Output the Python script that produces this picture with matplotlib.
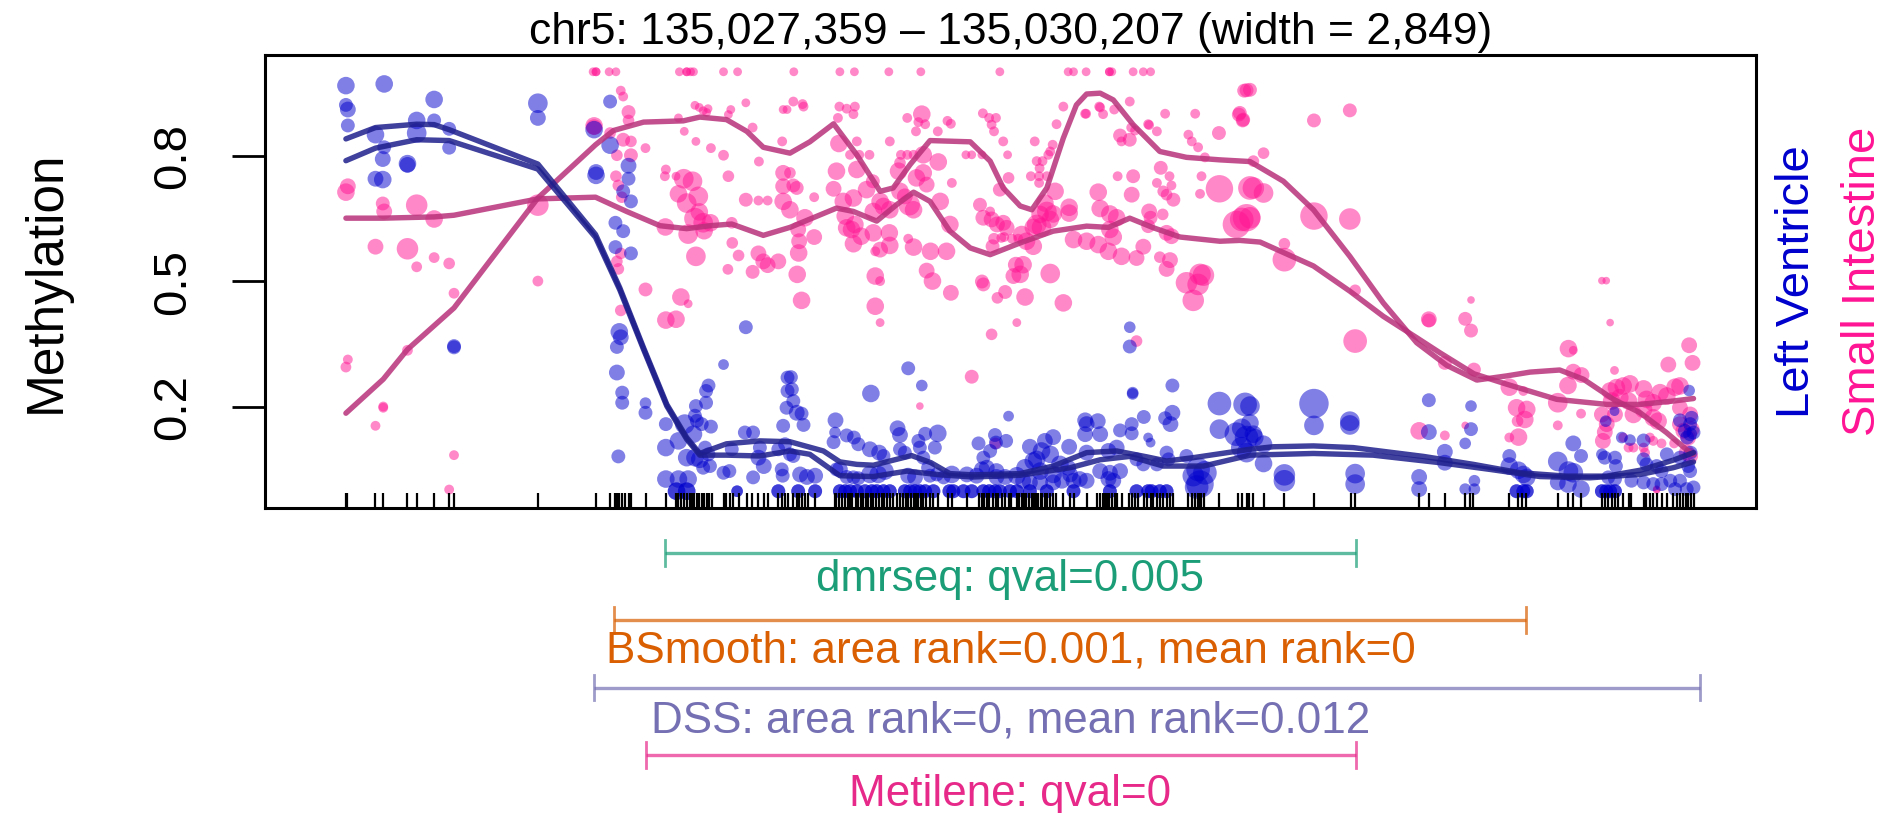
import matplotlib
matplotlib.use("Agg")
import matplotlib.pyplot as plt
import matplotlib.transforms as mtransforms
import numpy as np

plt.rcParams['font.family'] = ['Liberation Sans', 'DejaVu Sans']

chrom = "chr5"
region_start = 135027359
region_end = 135030207

# CpG sites, bp offset from region_start
cpg_pos = [53, 56, 114, 130, 180, 199, 235, 266, 276, 449,
           568, 598, 608, 612, 617, 622, 629, 636, 641, 672, 713, 734, 739, 744, 751, 756, 762, 766,
           772, 777, 782, 787, 792, 797, 803, 808, 832, 837, 845, 851, 863, 880, 890, 904, 915, 924,
           945, 952, 959, 966,
           976, 983, 988, 993, 1000, 1006, 1021, 1061, 1065, 1071, 1076, 1083, 1088, 1093, 1098, 1105,
           1110, 1116, 1120, 1126, 1131, 1136, 1141, 1147, 1153, 1158, 1164, 1169, 1175, 1182, 1189,
           1196, 1203, 1208, 1213, 1218, 1224, 1229, 1234, 1239, 1244, 1250, 1258, 1264, 1275, 1296,
           1303, 1334, 1358, 1365, 1370, 1375, 1380, 1387, 1394, 1399, 1406, 1413, 1420, 1426, 1437, 1442,
           1447, 1452, 1457, 1463, 1468, 1471, 1475, 1478, 1481, 1486, 1490, 1495, 1500, 1506, 1511,
           1518, 1532, 1547, 1554, 1581, 1603, 1609, 1614, 1619, 1624, 1628, 1633, 1640, 1643, 1653,
           1669, 1674, 1681, 1686, 1699, 1705, 1713, 1719, 1726, 1732, 1739, 1746, 1753, 1760, 1791,
           1798, 1805, 1811, 1815, 1818, 1823, 1855, 1894, 1901, 1911,
           1917, 1925, 1946, 1989, 2051, 2126, 2135, 2267, 2287, 2321, 2362, 2371, 2379,
           2453, 2470, 2479, 2488, 2553, 2575, 2585, 2601, 2644, 2650, 2657, 2664, 2671, 2678, 2687,
           2699, 2705, 2730, 2736, 2743, 2750, 2757, 2767, 2778, 2791, 2798, 2805, 2812, 2818, 2822,
           2827, 2833]

# Left Ventricle: (offset, methylation, coverage)
lv_points = [
    (53, 0.967, 16), (53, 0.921, 10), (57, 0.910, 13), (57, 0.872, 10), (132, 0.971, 16),
    (114, 0.850, 16), (132, 0.820, 10), (129, 0.792, 13), (114, 0.745, 13), (129, 0.743, 16),
    (180, 0.781, 16), (180, 0.778, 13), (199, 0.884, 16), (199, 0.854, 20), (235, 0.934, 16),
    (235, 0.884, 10), (266, 0.864, 10), (266, 0.819, 10), (276, 0.346, 10), (276, 0.343, 10),
    (449, 0.925, 20), (449, 0.890, 13),
    (598, 0.929, 10), (565, 0.862, 16), (598, 0.825, 16), (636, 0.776, 13), (569, 0.761, 13),
    (569, 0.753, 16), (636, 0.745, 10), (625, 0.715, 10), (641, 0.691, 10), (609, 0.640, 10),
    (625, 0.620, 10), (609, 0.582, 10), (641, 0.567, 10), (617, 0.380, 16), (620, 0.367, 13),
    (612, 0.344, 10), (612, 0.283, 13), (623, 0.235, 10), (623, 0.211, 10), (671, 0.210, 7),
    (671, 0.187, 10), (615, 0.083, 10), (878, 0.391, 10), (832, 0.302, 6), (801, 0.252, 10),
    (796, 0.239, 10), (775, 0.203, 10), (796, 0.211, 10), (773, 0.180, 10), (777, 0.168, 10),
    (787, 0.160, 10), (806, 0.154, 10), (713, 0.160, 10), (752, 0.160, 20), (770, 0.136, 16),
    (713, 0.104, 16), (739, 0.120, 16), (794, 0.104, 10), (801, 0.088, 10), (773, 0.080, 16),
    (783, 0.076, 16), (756, 0.080, 16), (713, 0.029, 16), (739, 0.029, 16), (759, 0.029, 16),
    (790, 0.056, 10), (804, 0.060, 10), (849, 0.100, 10), (832, 0.044, 10), (844, 0.048, 10),
    (876, 0.140, 10), (893, 0.140, 10), (904, 0.080, 13), (915, 0.060, 13), (907, 0.104, 10),
    (893, 0.033, 10), (952, 0.052, 10), (954, 0.037, 10), (955, 0.156, 10), (962, 0.199, 10),
    (964, 0.271, 10), (964, 0.239, 10), (945, 0.100, 10), (959, 0.112, 10),
    (1213, 0.293, 10), (1241, 0.252, 7), (1136, 0.233, 16), (971, 0.272, 10), (973, 0.243, 10),
    (976, 0.215, 10), (983, 0.187, 13), (993, 0.185, 10), (997, 0.158, 10), (1420, 0.179, 6),
    (1063, 0.169, 13), (1062, 0.140, 7), (1086, 0.133, 10), (1101, 0.128, 10), (1110, 0.112, 10),
    (1059, 0.117, 10), (1191, 0.150, 13), (1196, 0.134, 13), (1234, 0.120, 10), (1248, 0.137, 10),
    (1237, 0.104, 10), (1274, 0.138, 16), (1268, 0.104, 10), (1244, 0.080, 10), (1254, 0.056, 10),
    (1358, 0.114, 10), (1392, 0.134, 10), (1394, 0.116, 10), (1415, 0.120, 10), (1382, 0.096, 10),
    (1368, 0.080, 10), (969, 0.088, 10), (976, 0.084, 10), (990, 0.040, 13), (1004, 0.034, 13),
    (1021, 0.037, 13), (1072, 0.052, 13), (1065, 0.052, 10), (1086, 0.034, 10), (1100, 0.033, 10),
    (1110, 0.031, 10), (1134, 0.100, 13), (1153, 0.092, 13), (1162, 0.084, 10), (1134, 0.040, 16),
    (1151, 0.040, 16), (1165, 0.048, 16), (1196, 0.100, 10), (1206, 0.092, 10), (1213, 0.037, 13),
    (1227, 0.033, 13), (1258, 0.037, 10), (1272, 0.040, 10), (1286, 0.033, 10), (1303, 0.040, 16),
    (1334, 0.040, 13), (1354, 0.037, 13), (1365, 0.052, 13), (1375, 0.056, 13), (1395, 0.048, 13),
    (1395, 0.034, 13), (1413, 0.034, 13), (1437, 0.037, 16),
    (1670, 0.391, 7), (1670, 0.345, 10), (1676, 0.235, 7), (1676, 0.232, 7), (1758, 0.252, 10),
    (1855, 0.209, 29), (1908, 0.207, 29), (1855, 0.148, 20), (1578, 0.169, 13), (1581, 0.160, 13),
    (1604, 0.167, 13), (1578, 0.136, 13), (1609, 0.136, 13), (1650, 0.145, 10), (1674, 0.160, 10),
    (1674, 0.138, 10), (1699, 0.177, 10), (1758, 0.187, 13), (1743, 0.174, 10), (1754, 0.160, 13),
    (1708, 0.128, 5), (1713, 0.116, 5), (1512, 0.129, 13), (1495, 0.120, 13), (1464, 0.106, 13),
    (1545, 0.106, 13), (1488, 0.096, 16), (1506, 0.088, 16), (1478, 0.076, 16), (1581, 0.092, 13),
    (1626, 0.096, 13), (1643, 0.104, 13), (1684, 0.076, 10), (1698, 0.064, 10), (1726, 0.064, 10),
    (1746, 0.092, 10), (1750, 0.076, 10), (1787, 0.084, 10), (1811, 0.052, 29), (1825, 0.044, 29),
    (1801, 0.037, 24), (1815, 0.017, 39), (1808, 0.010, 29), (1890, 0.136, 29), (1911, 0.128, 29),
    (1901, 0.104, 24), (1454, 0.056, 16), (1471, 0.072, 16), (1485, 0.048, 16), (1512, 0.040, 16),
    (1526, 0.064, 16), (1543, 0.056, 13), (1547, 0.040, 13), (1609, 0.048, 13), (1629, 0.044, 13),
    (1650, 0.048, 13), (1567, 0.029, 13), (1581, 0.025, 13), (1450, 0.025, 13), (1464, 0.021, 13),
    (1485, 0.021, 13), (1512, 0.021, 13), (1530, 0.025, 13), (1554, 0.025, 13), (1626, 0.029, 13),
    (1636, 0.025, 13),
    (2050, 0.209, 45), (1918, 0.203, 20), (1918, 0.163, 16), (1925, 0.136, 16), (1928, 0.128, 16),
    (1946, 0.112, 16), (2050, 0.157, 20), (2124, 0.167, 20), (2124, 0.158, 20), (1946, 0.066, 16),
    (1989, 0.039, 24), (1989, 0.025, 24), (2135, 0.042, 20), (2135, 0.017, 20), (2287, 0.217, 10),
    (2287, 0.141, 13), (2267, 0.034, 13), (2267, 0.005, 13), (2320, 0.094, 13), (2320, 0.068, 13),
    (2374, 0.203, 7), (2374, 0.148, 10), (2362, 0.114, 7), (2362, 0.005, 7), (2381, 0.025, 7),
    (2381, 0.005, 7), (1911, 0.092, 20), (1901, 0.150, 20),
    (2824, 0.240, 7), (2453, 0.084, 10), (2453, 0.060, 16), (2472, 0.050, 16), (2482, 0.040, 16),
    (2489, 0.033, 16), (2553, 0.071, 20), (2553, 0.021, 13), (2575, 0.048, 20), (2585, 0.044, 20),
    (2574, 0.017, 16), (2585, 0.114, 13), (2601, 0.084, 10), (2601, 0.005, 16), (2652, 0.167, 7),
    (2670, 0.191, 5), (2685, 0.128, 7), (2702, 0.122, 7), (2650, 0.080, 10), (2671, 0.080, 10),
    (2673, 0.060, 10), (2644, 0.088, 7), (2657, 0.033, 10), (2671, 0.029, 10), (2705, 0.025, 10),
    (2730, 0.121, 10), (2730, 0.076, 10), (2736, 0.064, 10), (2730, 0.021, 10), (2757, 0.060, 10),
    (2767, 0.048, 10), (2778, 0.088, 10), (2750, 0.017, 10), (2767, 0.017, 10), (2785, 0.025, 10),
    (2805, 0.169, 10), (2815, 0.144, 10), (2826, 0.136, 10), (2833, 0.140, 10), (2826, 0.160, 10),
    (2829, 0.175, 10), (2820, 0.128, 10), (2805, 0.080, 10), (2822, 0.060, 10), (2826, 0.048, 10),
    (2827, 0.092, 10), (2805, 0.025, 10), (2819, 0.005, 10), (2795, 0.005, 10), (2833, 0.009, 10),
]
# CpGs where both Left Ventricle samples read fully unmethylated
lv_zero_pos = [735, 756, 860, 945, 986, 1021, 1072, 1083, 1093, 1107, 1124, 1138, 1148, 1162,
               1175, 1206, 1217, 1227, 1237, 1248, 1265, 1298, 1306, 1327, 1344, 1368, 1380,
               1392, 1402, 1423, 1437, 1464, 1499, 1554, 1629, 1684, 1708, 1715, 1732, 1746,
               2468, 2482, 2489, 2644, 2653, 2661, 2671]
lv_zero_cov = [16, 16, 7, 10, 10, 10, 10, 10, 10, 10, 10, 10, 10, 10,
               10, 10, 10, 10, 10, 10, 10, 10, 10, 10, 10, 10, 10,
               10, 10, 10, 10, 10, 10, 10, 10, 10, 10, 10, 10, 10,
               10, 10, 10, 10, 10, 10, 10]

# Small Intestine: (offset, methylation, coverage)
si_points = [
    (57, 0.727, 13), (53, 0.713, 16), (57, 0.314, 5), (53, 0.296, 6), (129, 0.686, 10),
    (132, 0.667, 13), (114, 0.583, 13), (130, 0.202, 5), (130, 0.199, 5), (114, 0.156, 5),
    (199, 0.682, 24), (180, 0.578, 24), (199, 0.535, 6), (180, 0.336, 6), (235, 0.649, 16),
    (235, 0.557, 6), (266, 0.543, 7), (276, 0.472, 6), (276, 0.086, 5), (266, 0.004, 5),
    (449, 0.682, 24), (449, 0.501, 6),
    (620, 0.955, 5), (625, 0.941, 5), (636, 0.904, 10), (636, 0.884, 7), (565, 0.871, 16),
    (565, 0.868, 13), (598, 0.854, 7), (625, 0.838, 10), (641, 0.834, 7), (671, 0.818, 5),
    (612, 0.801, 7), (641, 0.801, 10), (739, 0.890, 4), (751, 0.858, 4), (773, 0.920, 4),
    (782, 0.915, 4), (790, 0.907, 4), (800, 0.912, 4), (797, 0.903, 4), (847, 0.910, 4),
    (842, 0.898, 4), (878, 0.926, 4), (892, 0.867, 5), (775, 0.834, 4), (806, 0.818, 5),
    (832, 0.801, 6), (905, 0.786, 5), (955, 0.910, 4), (963, 0.910, 4), (953, 0.834, 5),
    (713, 0.767, 5), (711, 0.751, 5), (734, 0.751, 4), (750, 0.745, 20), (768, 0.739, 20),
    (739, 0.709, 16), (756, 0.687, 20), (780, 0.703, 20), (782, 0.666, 16), (773, 0.650, 24),
    (790, 0.640, 20), (805, 0.640, 16), (759, 0.613, 20), (792, 0.621, 16), (712, 0.630, 16),
    (842, 0.751, 7), (849, 0.640, 7), (878, 0.695, 10), (904, 0.693, 5), (923, 0.693, 5),
    (955, 0.759, 13), (955, 0.727, 13), (955, 0.691, 16), (850, 0.592, 7), (863, 0.562, 7),
    (775, 0.560, 20), (841, 0.529, 6), (892, 0.523, 10), (904, 0.567, 13), (914, 0.548, 13),
    (923, 0.539, 13), (945, 0.548, 13), (610, 0.751, 7), (615, 0.729, 7), (622, 0.701, 7),
    (620, 0.567, 7), (612, 0.548, 7), (615, 0.530, 7), (671, 0.481, 10), (744, 0.463, 16),
    (759, 0.447, 4), (713, 0.408, 16), (734, 0.410, 16), (620, 0.431, 7),
    (976, 0.929, 5), (995, 0.923, 5), (997, 0.917, 5), (1071, 0.917, 5), (1086, 0.912, 5),
    (1103, 0.917, 5), (1100, 0.899, 5), (1068, 0.890, 5), (1211, 0.890, 5), (1241, 0.899, 16),
    (1234, 0.880, 5), (1248, 0.875, 5), (1229, 0.858, 5), (1274, 0.858, 5), (1294, 0.883, 5),
    (1301, 0.876, 5), (1367, 0.901, 5), (1380, 0.890, 5), (1394, 0.890, 5), (1385, 0.874, 5),
    (1390, 0.858, 5), (1409, 0.834, 5), (1175, 0.834, 5), (1107, 0.834, 5), (1070, 0.829, 16),
    (1093, 0.802, 5), (1112, 0.802, 5), (1133, 0.802, 5), (1198, 0.802, 5), (1211, 0.802, 5),
    (1224, 0.802, 5), (1244, 0.802, 16), (1275, 0.785, 16), (1332, 0.802, 4), (1344, 0.802, 4),
    (1365, 0.802, 4), (1418, 0.802, 4), (969, 0.759, 7), (976, 0.729, 10), (983, 0.723, 10),
    (1019, 0.701, 5), (1065, 0.763, 16), (1107, 0.767, 16), (1059, 0.721, 13), (1079, 0.691, 16),
    (1100, 0.699, 16), (1193, 0.763, 16), (1196, 0.783, 7), (1230, 0.747, 16), (1244, 0.759, 16),
    (1251, 0.731, 13), (1303, 0.735, 5), (1420, 0.747, 7), (1127, 0.719, 16), (1140, 0.739, 10),
    (1155, 0.691, 16), (1162, 0.679, 16), (1196, 0.715, 16), (1206, 0.703, 13), (1215, 0.683, 24),
    (1224, 0.671, 16), (1279, 0.691, 16), (1361, 0.683, 10), (1402, 0.719, 10), (969, 0.671, 16),
    (986, 0.624, 13), (1000, 0.652, 16), (1083, 0.656, 16), (1096, 0.624, 16), (1086, 0.628, 16),
    (1103, 0.636, 16), (1175, 0.671, 16), (1141, 0.667, 16), (1299, 0.636, 16), (1368, 0.652, 13),
    (1385, 0.648, 13), (1396, 0.636, 13), (1409, 0.640, 13), (1416, 0.628, 13), (1382, 0.667, 5),
    (988, 0.596, 13), (1019, 0.606, 13), (1100, 0.590, 16), (1116, 0.608, 16), (1141, 0.616, 16),
    (1174, 0.616, 16), (1175, 0.586, 16), (1155, 0.576, 13), (1145, 0.572, 5), (1213, 0.602, 5),
    (1224, 0.582, 16), (1259, 0.572, 16), (1292, 0.572, 16), (1390, 0.602, 7), (1405, 0.604, 5),
    (1411, 0.606, 5), (1387, 0.584, 10), (1427, 0.602, 5), (1440, 0.602, 5), (987, 0.568, 16),
    (984, 0.517, 16), (993, 0.455, 16), (1145, 0.513, 16), (1155, 0.501, 5), (1145, 0.441, 16),
    (1155, 0.402, 4), (1251, 0.526, 13), (1263, 0.501, 16), (1301, 0.473, 13), (1368, 0.493, 10),
    (1365, 0.500, 10), (1397, 0.461, 7), (1413, 0.475, 10), (1385, 0.374, 7), (1435, 0.540, 13),
    (1430, 0.513, 13), (1437, 0.402, 4), (1344, 0.273, 10), (1237, 0.203, 3), (1393, 0.114, 7),
    (1533, 0.917, 5), (1578, 0.900, 5), (1580, 0.900, 5), (1607, 0.917, 5), (1609, 0.915, 5),
    (1615, 0.899, 5), (1638, 0.910, 5), (1670, 0.929, 5), (1743, 0.900, 5), (1805, 0.900, 5),
    (1906, 0.955, 10), (1895, 0.898, 10), (1903, 0.884, 10), (1519, 0.875, 5), (1708, 0.875, 5),
    (1710, 0.873, 5), (1673, 0.867, 5), (1681, 0.860, 5), (1726, 0.858, 5), (1791, 0.850, 5),
    (1798, 0.834, 5), (1811, 0.820, 5), (1825, 0.796, 5), (1854, 0.854, 10), (1474, 0.834, 5),
    (1511, 0.826, 5), (1506, 0.810, 5), (1502, 0.802, 5), (1650, 0.848, 10), (1653, 0.834, 5),
    (1670, 0.838, 10), (1478, 0.787, 5), (1490, 0.787, 5), (1484, 0.770, 5), (1483, 0.751, 5),
    (1466, 0.751, 5), (1499, 0.751, 5), (1483, 0.735, 5), (1516, 0.715, 16), (1645, 0.751, 5),
    (1677, 0.751, 10), (1734, 0.771, 10), (1752, 0.751, 5), (1756, 0.729, 5), (1726, 0.735, 5),
    (1739, 0.715, 7), (1746, 0.707, 7), (1760, 0.695, 10), (1818, 0.751, 5), (1815, 0.709, 5),
    (1855, 0.721, 39), (1918, 0.723, 29), (1605, 0.713, 16), (1674, 0.707, 13), (1495, 0.687, 16),
    (1499, 0.667, 20), (1485, 0.660, 16), (1506, 0.648, 16), (1478, 0.636, 20), (1471, 0.629, 16),
    (1488, 0.629, 20), (1512, 0.661, 16), (1545, 0.677, 16), (1545, 0.663, 16), (1609, 0.674, 16),
    (1629, 0.661, 16), (1629, 0.624, 16), (1643, 0.652, 16), (1710, 0.667, 13), (1738, 0.660, 7),
    (1713, 0.652, 10), (1708, 0.632, 10), (1746, 0.616, 13), (1756, 0.608, 13), (1890, 0.636, 39),
    (1901, 0.648, 29), (1447, 0.612, 16), (1457, 0.596, 16), (1471, 0.584, 16), (1554, 0.600, 16),
    (1581, 0.596, 16), (1605, 0.588, 16), (1626, 0.572, 16), (1653, 0.560, 16), (1684, 0.556, 13),
    (1698, 0.583, 13), (1636, 0.606, 16), (1732, 0.558, 7), (1753, 0.551, 13), (1746, 0.530, 13),
    (1450, 0.540, 16), (1444, 0.517, 16), (1506, 0.519, 20), (1454, 0.463, 16), (1533, 0.449, 16),
    (1787, 0.497, 24), (1815, 0.517, 24), (1822, 0.515, 24), (1811, 0.493, 24), (1801, 0.455, 24),
    (1684, 0.358, 7),
    (1918, 0.957, 10), (2050, 0.884, 10), (2124, 0.908, 10), (1946, 0.806, 7), (1925, 0.787, 7),
    (1925, 0.723, 24), (1946, 0.711, 20), (1918, 0.652, 24), (1911, 0.652, 39), (2050, 0.656, 39),
    (2124, 0.649, 24), (1989, 0.590, 7), (1989, 0.552, 29), (2135, 0.479, 7), (2135, 0.358, 29),
    (2287, 0.410, 13), (2287, 0.407, 10), (2374, 0.456, 3), (2362, 0.411, 10), (2374, 0.383, 10),
    (2320, 0.306, 10), (2380, 0.290, 10), (2267, 0.144, 16), (2320, 0.133, 5), (2362, 0.157, 3),
    (1911, 0.956, 10), (1897, 0.902, 10), (1904, 0.886, 10),
    (2644, 0.502, 3), (2653, 0.502, 3), (2661, 0.402, 3), (2670, 0.288, 4), (2575, 0.340, 16),
    (2585, 0.336, 4), (2824, 0.348, 13), (2831, 0.306, 13), (2781, 0.302, 13), (2585, 0.285, 13),
    (2602, 0.277, 13), (2574, 0.252, 16), (2453, 0.248, 16), (2482, 0.239, 5), (2553, 0.211, 20),
    (2468, 0.199, 16), (2489, 0.195, 16), (2485, 0.171, 16), (2470, 0.167, 7), (2472, 0.129, 16),
    (2453, 0.128, 5), (2553, 0.157, 5), (2601, 0.185, 5), (2644, 0.183, 13), (2654, 0.160, 13),
    (2650, 0.141, 13), (2646, 0.120, 13), (2671, 0.183, 13), (2661, 0.239, 16), (2674, 0.247, 16),
    (2688, 0.251, 16), (2702, 0.256, 16), (2664, 0.215, 16), (2681, 0.223, 16), (2699, 0.215, 16),
    (2730, 0.244, 16), (2736, 0.219, 16), (2750, 0.211, 16), (2764, 0.235, 16), (2778, 0.227, 16),
    (2795, 0.248, 16), (2805, 0.251, 16), (2709, 0.183, 16), (2730, 0.195, 16), (2750, 0.175, 16),
    (2760, 0.167, 16), (2805, 0.199, 13), (2826, 0.183, 13), (2688, 0.128, 5), (2699, 0.104, 5),
    (2709, 0.104, 5), (2730, 0.104, 5), (2733, 0.092, 5), (2743, 0.128, 5), (2750, 0.120, 5),
    (2767, 0.114, 5), (2793, 0.114, 5), (2805, 0.160, 13), (2812, 0.144, 13), (2822, 0.128, 13),
    (2829, 0.148, 13), (2819, 0.092, 13), (2826, 0.084, 13), (2757, 0.005, 3), (2757, 0.003, 3),
]
# CpGs where a Small Intestine sample reads fully methylated
si_full_pos = [563, 569, 569, 596, 610, 741, 756, 756, 764, 770, 832, 861,
               977, 1072, 1102, 1173, 1239, 1402,
               1543, 1554, 1580, 1628, 1628, 1633, 1677, 1698, 1713]

# per-sample smoothed methylation, evaluated at CpGs
lv_smooth_a = [(53, 0.840), (114, 0.867), (199, 0.875), (235, 0.874), (266, 0.862), (449, 0.780),
               (568, 0.612), (618, 0.485), (667, 0.342), (715, 0.207), (756, 0.128), (783, 0.090),
               (838, 0.113), (907, 0.120), (969, 0.118), (1038, 0.096), (1072, 0.070), (1107, 0.064),
               (1141, 0.062), (1175, 0.072), (1220, 0.085), (1260, 0.068), (1299, 0.042), (1347, 0.039),
               (1444, 0.042), (1512, 0.060), (1581, 0.092), (1643, 0.096), (1705, 0.082), (1746, 0.072),
               (1801, 0.080), (1918, 0.100), (1966, 0.106), (2049, 0.108), (2131, 0.104), (2276, 0.083),
               (2379, 0.064), (2475, 0.044), (2571, 0.036), (2654, 0.036), (2723, 0.050), (2791, 0.074),
               (2833, 0.092)]
lv_smooth_b = [(53, 0.788), (114, 0.818), (199, 0.838), (266, 0.836), (449, 0.768), (568, 0.605),
               (618, 0.480), (667, 0.338), (715, 0.203), (756, 0.124), (783, 0.086), (838, 0.086),
               (907, 0.084), (969, 0.096), (1010, 0.088), (1072, 0.037), (1141, 0.035), (1210, 0.048),
               (1279, 0.039), (1347, 0.034), (1444, 0.038), (1547, 0.056), (1609, 0.075), (1670, 0.083),
               (1739, 0.060), (1822, 0.060), (1918, 0.086), (2049, 0.090), (2172, 0.086), (2310, 0.068),
               (2413, 0.052), (2516, 0.035), (2619, 0.032), (2723, 0.040), (2791, 0.056), (2833, 0.070)]
si_smooth_a = [(53, 0.651), (130, 0.651), (235, 0.654), (276, 0.658), (449, 0.697), (568, 0.701),
               (632, 0.667), (701, 0.633), (756, 0.626), (804, 0.633), (849, 0.637), (914, 0.610),
               (969, 0.629), (1017, 0.652), (1065, 0.675), (1100, 0.667), (1148, 0.644), (1189, 0.683),
               (1224, 0.713), (1258, 0.691), (1299, 0.620), (1341, 0.580), (1382, 0.564), (1444, 0.592),
               (1512, 0.620), (1581, 0.632), (1626, 0.629), (1670, 0.651), (1719, 0.628), (1774, 0.606),
               (1856, 0.596), (1897, 0.598), (1939, 0.594), (2049, 0.537), (2124, 0.477), (2193, 0.417),
               (2262, 0.366), (2310, 0.330), (2380, 0.280), (2448, 0.255), (2551, 0.219), (2654, 0.207),
               (2723, 0.207), (2791, 0.215), (2833, 0.221)]
si_smooth_b = [(53, 0.186), (130, 0.267), (180, 0.338), (276, 0.437), (449, 0.699), (568, 0.826),
               (605, 0.860), (667, 0.880), (749, 0.883), (783, 0.892), (838, 0.886), (880, 0.858),
               (914, 0.820), (969, 0.806), (1010, 0.833), (1059, 0.876), (1107, 0.802), (1155, 0.715),
               (1182, 0.723), (1217, 0.779), (1258, 0.836), (1341, 0.833), (1382, 0.787), (1409, 0.723),
               (1444, 0.680), (1468, 0.671), (1499, 0.723), (1533, 0.842), (1560, 0.921), (1581, 0.947),
               (1609, 0.949), (1636, 0.933), (1677, 0.874), (1732, 0.810), (1787, 0.796), (1856, 0.790),
               (1918, 0.786), (1987, 0.739), (2049, 0.671), (2124, 0.560), (2193, 0.449), (2262, 0.354),
               (2324, 0.300), (2386, 0.265), (2448, 0.275), (2496, 0.284), (2557, 0.289), (2606, 0.267),
               (2668, 0.219), (2723, 0.187), (2777, 0.140), (2826, 0.092), (2833, 0.088)]

# DMR calls from each method
dmr_methods = ["dmrseq", "BSmooth", "DSS", "Metilene"]
dmr_start = [711, 607, 565, 672]
dmr_end = [2137, 2488, 2846, 2137]
dmr_labels = ["dmrseq: qval=0.005",
              "BSmooth: area rank=0.001, mean rank=0",
              "DSS: area rank=0, mean rank=0.012",
              "Metilene: qval=0"]
dmr_colors = ["#1B9E77", "#D95F02", "#7570B3", "#E7298A"]

lv_color = "#0000CD"
si_color = "#FF1493"
lv_line = "#1E1E8C"
si_line = "#B9317A"

W, H = 1886, 813
fig = plt.figure(figsize=(W / 100, H / 100), dpi=100)
ax = fig.add_axes([265 / W, 1 - 508 / H, (1756 - 265) / W, (508 - 55) / H])

span = region_end - region_start
pad = 0.04 * span
ax.set_xlim(region_start - pad, region_end + pad)
ax.set_ylim(-0.04, 1.04)


def cov_size(c):
    # marker area grows with read coverage
    return 10.0 * np.asarray(c, dtype=float)


si = np.array(si_points)
lv = np.array(lv_points)
ax.scatter(region_start + si[:, 0], si[:, 1], s=cov_size(si[:, 2]), color=si_color,
           alpha=0.5, edgecolors='none', zorder=2)
ax.scatter(region_start + np.array(si_full_pos), np.ones(len(si_full_pos)), s=cov_size(4),
           color=si_color, alpha=0.5, edgecolors='none', zorder=2)
ax.scatter(region_start + lv[:, 0], lv[:, 1], s=cov_size(lv[:, 2]), color=lv_color,
           alpha=0.5, edgecolors='none', zorder=2)
for k in range(2):
    ax.scatter(region_start + np.array(lv_zero_pos), np.zeros(len(lv_zero_pos)),
               s=cov_size(lv_zero_cov), color=lv_color, alpha=0.5, edgecolors='none', zorder=2)

for line, col in [(si_smooth_a, si_line), (si_smooth_b, si_line),
                  (lv_smooth_a, lv_line), (lv_smooth_b, lv_line)]:
    arr = np.array(line)
    ax.plot(region_start + arr[:, 0], arr[:, 1], color=col, lw=3.9, alpha=0.85,
            solid_joinstyle='round', solid_capstyle='round', zorder=3)

# rug of CpG positions
rug_tr = mtransforms.blended_transform_factory(ax.transData, ax.transAxes)
ax.vlines(region_start + np.array(cpg_pos), 0, 0.033, transform=rug_tr, color='black', lw=1.6, zorder=4)

for sp in ax.spines.values():
    sp.set_linewidth(2.2)
ax.set_xticks([])
ax.set_yticks([0.2, 0.5, 0.8])
ax.set_yticklabels(['0.2', '0.5', '0.8'], rotation=90, va='center')
ax.tick_params(axis='y', length=24, width=2, labelsize=34, pad=26)

ax.set_title(f"{chrom}: {region_start:,} \u2013 {region_end:,} (width = {span + 1:,})",
             fontsize=32, pad=8)
fig.text(46 / W, 1 - 281.5 / H, "Methylation", rotation=90, fontsize=37,
         ha='center', va='center')
fig.text(1797 / W, 1 - 281.5 / H, "Left Ventricle", rotation=90, fontsize=34,
         color=lv_color, ha='center', va='center')
fig.text(1863 / W, 1 - 281.5 / H, "Small Intestine", rotation=90, fontsize=34,
         color=si_color, ha='center', va='center')

# DMR tracks below the data panel
ax2 = fig.add_axes([265 / W, 1 - 810 / H, (1756 - 265) / W, 290 / H], sharex=ax)
ax2.set_ylim(-3.82, 0.49)
ax2.axis('off')
txt_tr = mtransforms.blended_transform_factory(ax2.transAxes, ax2.transData)
label_drop = [0.39, 0.45, 0.50, 0.59]
for i, (s0, e0, lab, col) in enumerate(zip(dmr_start, dmr_end, dmr_labels, dmr_colors)):
    y = -i * 1.0
    x0, x1 = region_start + s0, region_start + e0
    ax2.plot([x0, x1], [y, y], color=col, lw=2.4, alpha=0.7, solid_capstyle='butt')
    ax2.plot([x0, x0], [y - 0.19, y + 0.19], color=col, lw=2.0, alpha=0.7)
    ax2.plot([x1, x1], [y - 0.19, y + 0.19], color=col, lw=2.0, alpha=0.7)
    ax2.text(0.5, y - label_drop[i], lab, transform=txt_tr, color=col, fontsize=31.7,
             ha='center', va='center')

fig.savefig("out.png", dpi=100)
